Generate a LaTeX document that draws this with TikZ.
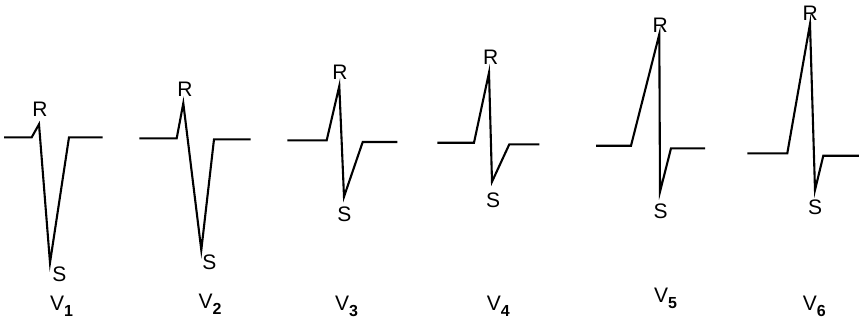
\documentclass[tikz,border=0pt]{standalone}
\usepackage{fontspec}
\setmainfont{Liberation Sans}
\newcommand{\lead}[1]{V\raisebox{-6pt}{\fontsize{16}{18}\selectfont\bfseries #1}}
\begin{document}
\begin{tikzpicture}[
		x=1pt, y=-1pt,
		w/.style = {line width=2.1pt, line join=miter},
		l/.style = {font=\fontsize{21}{25}\selectfont, inner sep=0pt},
		v/.style = {l, anchor=base west},
		]
		\useasboundingbox (0,0) rectangle (859,322);
		
		%Points V1
		\coordinate	(b1)	at	(4, 137.3);
		\coordinate	(q1)	at	(31.7, 137.3);
		\coordinate	(r1)	at	(39, 124.3);
		\coordinate	(s1)	at	(50, 262.7);
		\coordinate	(j1)	at	(69, 137.3);
		\coordinate	(e1)	at	(102.7, 137.3);
		
		%Points V2
		\coordinate	(b2)	at	(139.3, 138.3);
		\coordinate	(q2)	at	(176.7, 138.3);
		\coordinate	(r2)	at	(183.3, 103.3);
		\coordinate	(s2)	at	(201.3, 250);
		\coordinate	(j2)	at	(214, 139.3);
		\coordinate	(e2)	at	(250.7, 139.3);
		
		%Points V3
		\coordinate	(b3)	at	(287.3, 140.3);
		\coordinate	(q3)	at	(326.7, 140.3);
		\coordinate	(r3)	at	(339.3, 86);
		\coordinate	(s3)	at	(344, 196.7);
		\coordinate	(j3)	at	(362.7, 142);
		\coordinate	(e3)	at	(397.3, 142);
		
		%Points V4
		\coordinate	(b4)	at	(437.3, 142.7);
		\coordinate	(q4)	at	(474, 142.7);
		\coordinate	(r4)	at	(489, 72.7);
		\coordinate	(s4)	at	(492, 181.7);
		\coordinate	(j4)	at	(509.3, 144.3);
		\coordinate	(e4)	at	(539.3, 144.3);
		
		%Points V5
		\coordinate	(b5)	at	(596, 145.7);
		\coordinate	(q5)	at	(631, 145.7);
		\coordinate	(r5)	at	(659.3, 34.3);
		\coordinate	(s5)	at	(660, 191.7);
		\coordinate	(j5)	at	(671, 148.3);
		\coordinate	(e5)	at	(705, 148.3);
		
		%Points V6
		\coordinate	(b6)	at	(747.3, 153.3);
		\coordinate	(q6)	at	(787.3, 153.3);
		\coordinate	(r6)	at	(810, 24);
		\coordinate	(s6)	at	(815, 190);
		\coordinate	(j6)	at	(823.3, 155.7);
		\coordinate	(e6)	at	(859, 155.7);
		
		%Labels
		\node[l]	(R1)	at	(40, 109)	{R};
		\node[l]	(S1)	at	(59.3, 274)	{S};
		\node[v]	(V1)	at	(50, 310)	{\lead{1}};
		\node[l]	(R2)	at	(185, 89.7)	{R};
		\node[l]	(S2)	at	(209.3, 262.5)	{S};
		\node[v]	(V2)	at	(198.3, 308.3)	{\lead{2}};
		\node[l]	(R3)	at	(340, 72.7)	{R};
		\node[l]	(S3)	at	(344.3, 214.2)	{S};
		\node[v]	(V3)	at	(335, 310)	{\lead{3}};
		\node[l]	(R4)	at	(490.7, 57)	{R};
		\node[l]	(S4)	at	(493, 200)	{S};
		\node[v]	(V4)	at	(486.7, 310)	{\lead{4}};
		\node[l]	(R5)	at	(660.3, 25)	{R};
		\node[l]	(S5)	at	(660.7, 210.8)	{S};
		\node[v]	(V5)	at	(654, 302)	{\lead{5}};
		\node[l]	(R6)	at	(810.3, 13)	{R};
		\node[l]	(S6)	at	(815, 207.5)	{S};
		\node[v]	(V6)	at	(802.7, 310.5)	{\lead{6}};
		
		%Waves
		\draw[w]	(b1) -- (q1) -- (r1) -- (s1) -- (j1) -- (e1);
		\draw[w]	(b2) -- (q2) -- (r2) -- (s2) -- (j2) -- (e2);
		\draw[w]	(b3) -- (q3) -- (r3) -- (s3) -- (j3) -- (e3);
		\draw[w]	(b4) -- (q4) -- (r4) -- (s4) -- (j4) -- (e4);
		\draw[w]	(b5) -- (q5) -- (r5) -- (s5) -- (j5) -- (e5);
		\draw[w]	(b6) -- (q6) -- (r6) -- (s6) -- (j6) -- (e6);
		
	\end{tikzpicture}
\end{document}
